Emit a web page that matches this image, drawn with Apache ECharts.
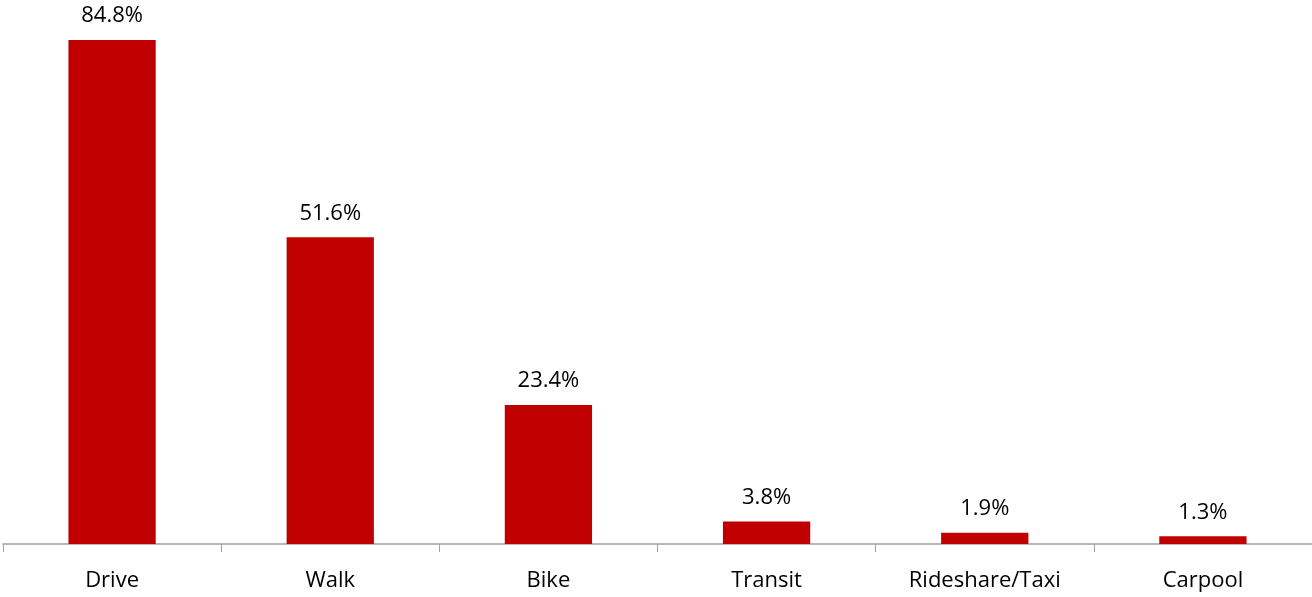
<!DOCTYPE html>
<html>
<head>
<meta charset="utf-8">
<script src="https://cdn.jsdelivr.net/npm/echarts@6/dist/echarts.min.js"></script>
<style>
  html, body { margin: 0; padding: 0; background: #fff; }
  #chart { width: 1312px; height: 597px; }
</style>
</head>
<body>
<div id="chart"></div>
<script>
var categories = ['Drive', 'Walk', 'Bike', 'Transit', 'Rideshare/Taxi', 'Carpool'];
var shares = [84.8, 51.6, 23.4, 3.8, 1.9, 1.3];

var chart = echarts.init(document.getElementById('chart'));
var font = '"Open Sans", "Noto Sans", sans-serif';

chart.setOption({
  animation: false,
  grid: { left: 3, right: 0, top: 9, bottom: 53, containLabel: false },
  xAxis: {
    type: 'category',
    data: categories,
    axisLine: { lineStyle: { color: '#a0a0a0', width: 1.5 } },
    axisTick: { show: true, length: 8, lineStyle: { color: '#a0a0a0' } },
    axisLabel: { color: '#000', fontSize: 22, fontFamily: font, margin: 26 }
  },
  yAxis: {
    type: 'value',
    min: 0,
    max: 90,
    show: false,
    splitLine: { show: false }
  },
  series: [{
    type: 'bar',
    data: shares,
    barWidth: '40%',
    itemStyle: { color: '#c00000' },
    label: {
      show: true,
      position: 'top',
      distance: 13,
      color: '#000',
      fontSize: 22,
      fontFamily: font,
      formatter: function (p) { return p.value.toFixed(1) + '%'; }
    }
  }]
});
</script>
</body>
</html>
